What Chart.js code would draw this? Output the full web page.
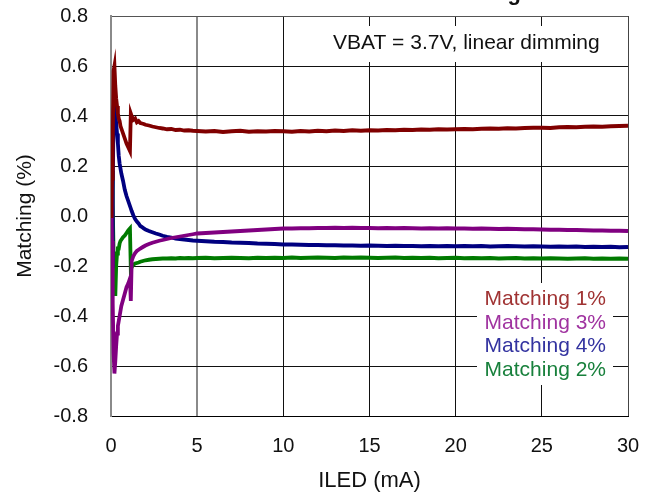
<!DOCTYPE html>
<html>
<head>
<meta charset="utf-8">
<script src="https://cdn.jsdelivr.net/npm/chart.js@4.4.1/dist/chart.umd.min.js"></script>
<style>
html,body{margin:0;padding:0;background:#fff;}
#wrap{width:659px;height:497px;position:relative;}
</style>
</head>
<body>
<div id="wrap"><canvas id="c" width="659" height="497"></canvas></div>
<script>
// ---- data ----
const currentMA = [0,0.03,0.06,0.1,0.15,0.2,0.25,0.3,0.35,0.4,
  0.45,0.5,0.55,0.6,0.7,0.8,0.9,1.0,1.1,1.15,
  1.2,1.3,1.4,1.5,1.6,1.7,1.8,1.9,2.0,2.2,
  2.4,2.6,2.8,3.0,3.25,3.5,3.75,4.0,4.25,4.5,
  4.75,5.0,5.5,6,6.5,7,7.5,8,8.5,9,
  9.5,10,10.5,11,11.5,12,12.5,13,13.5,14,
  14.5,15,15.5,16,16.5,17,17.5,18,18.5,19,
  19.5,20,20.5,21,21.5,22,22.5,23,23.5,24,
  24.5,25,25.5,26,26.5,27,27.5,28,28.5,29,
  29.5,30];

const matching1 = [0.0,0.05,0.15,0.3,0.58,0.6,0.52,0.47,0.44,0.41,
  0.39,0.38,0.36,0.35,0.33,0.31,0.29,0.275,0.26,0.41,
  0.40,0.385,0.39,0.375,0.38,0.372,0.37,0.368,0.365,0.362,
  0.358,0.355,0.352,0.35,0.347,0.348,0.344,0.345,0.342,0.343,
  0.341,0.34,0.338,0.34,0.336,0.339,0.341,0.337,0.339,0.338,
  0.34,0.339,0.337,0.34,0.338,0.341,0.339,0.342,0.34,0.343,
  0.341,0.343,0.342,0.344,0.343,0.345,0.344,0.346,0.345,0.347,
  0.346,0.347,0.348,0.347,0.349,0.35,0.349,0.351,0.35,0.352,
  0.353,0.353,0.352,0.355,0.356,0.355,0.357,0.358,0.357,0.359,
  0.36,0.361];

const matching3 = [0.22,0.0,-0.1,-0.35,-0.55,-0.63,-0.58,-0.52,-0.47,-0.44,
  -0.42,-0.4,-0.38,-0.36,-0.335,-0.31,-0.285,-0.27,-0.25,-0.34,
  -0.18,-0.16,-0.148,-0.14,-0.135,-0.13,-0.126,-0.122,-0.118,-0.112,
  -0.107,-0.103,-0.099,-0.096,-0.092,-0.088,-0.085,-0.082,-0.079,-0.076,
  -0.073,-0.07,-0.068,-0.066,-0.064,-0.062,-0.06,-0.058,-0.056,-0.054,
  -0.052,-0.05,-0.05,-0.049,-0.049,-0.048,-0.048,-0.047,-0.048,-0.047,
  -0.048,-0.048,-0.049,-0.048,-0.049,-0.048,-0.049,-0.05,-0.049,-0.05,
  -0.049,-0.05,-0.05,-0.051,-0.05,-0.051,-0.052,-0.051,-0.052,-0.053,
  -0.053,-0.054,-0.055,-0.055,-0.056,-0.056,-0.057,-0.058,-0.058,-0.059,
  -0.059,-0.06];

const matching4 = [-0.25,-0.24,-0.2,0.1,0.42,0.49,0.42,0.37,0.33,0.29,
  0.24,0.21,0.19,0.17,0.14,0.105,0.08,0.06,0.04,0.03,
  0.02,0.002,-0.012,-0.022,-0.03,-0.04,-0.044,-0.05,-0.054,-0.06,
  -0.065,-0.07,-0.074,-0.079,-0.083,-0.086,-0.09,-0.092,-0.094,-0.096,
  -0.098,-0.099,-0.101,-0.103,-0.104,-0.106,-0.107,-0.108,-0.11,-0.111,
  -0.112,-0.114,-0.114,-0.115,-0.116,-0.116,-0.117,-0.117,-0.118,-0.118,
  -0.119,-0.118,-0.119,-0.12,-0.119,-0.12,-0.12,-0.121,-0.12,-0.121,
  -0.12,-0.121,-0.12,-0.121,-0.12,-0.122,-0.121,-0.12,-0.121,-0.122,
  -0.121,-0.122,-0.123,-0.122,-0.123,-0.122,-0.124,-0.123,-0.124,-0.123,
  -0.125,-0.124];

const matching2 = [0.05,0.2,0.18,0.05,-0.15,-0.25,-0.32,-0.2,-0.15,-0.13,
  -0.13,-0.11,-0.1,-0.095,-0.085,-0.078,-0.068,-0.058,-0.05,-0.215,
  -0.205,-0.195,-0.19,-0.188,-0.186,-0.183,-0.181,-0.179,-0.177,-0.175,
  -0.173,-0.172,-0.171,-0.17,-0.17,-0.169,-0.17,-0.168,-0.169,-0.168,
  -0.169,-0.168,-0.167,-0.169,-0.168,-0.167,-0.168,-0.169,-0.167,-0.168,
  -0.167,-0.168,-0.166,-0.168,-0.167,-0.166,-0.167,-0.168,-0.166,-0.167,
  -0.166,-0.167,-0.168,-0.167,-0.166,-0.168,-0.167,-0.168,-0.167,-0.169,
  -0.168,-0.167,-0.169,-0.168,-0.169,-0.168,-0.17,-0.169,-0.168,-0.17,
  -0.169,-0.17,-0.169,-0.17,-0.171,-0.17,-0.169,-0.171,-0.17,-0.171,
  -0.17,-0.171];

const seriesLabels = ['Matching 1%','Matching 3%','Matching 4%','Matching 2%'];
const seriesValues = [matching1, matching3, matching4, matching2];
const lineColors = ['#800000','#800080','#000080','#007a00'];
const textColors = ['#a03333','#a033a0','#3333a0','#18803c'];
const xTicks = [0,5,10,15,20,25,30];
const yTicks = [-0.8,-0.6,-0.4,-0.2,0.0,0.2,0.4,0.6,0.8];
const annotationText = 'VBAT = 3.7V, linear dimming';
const titleText = 'LED Current Matching';

const FONT = "'Liberation Sans', Arial, sans-serif";

const datasets = seriesValues.map((vals, i) => ({
  label: seriesLabels[i],
  data: currentMA.map((x, k) => ({x: x, y: vals[k]})),
  borderColor: lineColors[i],
  backgroundColor: lineColors[i],
  borderWidth: 3.8,
  pointRadius: 0,
  tension: 0,
  fill: false
}));

const boxesPlugin = {
  id: 'boxes',
  beforeDatasetsDraw(chart) {
    const c = chart.ctx;
    c.save();
    // annotation box
    c.fillStyle = '#fff';
    c.fillRect(325, 26, 289, 36);
    c.fillStyle = '#111';
    c.font = '21px ' + FONT;
    c.textAlign = 'left';
    c.textBaseline = 'middle';
    c.fillText(annotationText, 333, 43);
    // legend box
    c.fillStyle = '#fff';
    c.fillRect(477, 283, 136, 102);
    c.font = '21px ' + FONT;
    c.textAlign = 'right';
    c.textBaseline = 'alphabetic';
    seriesLabels.forEach((lab, i) => {
      c.fillStyle = textColors[i];
      c.fillText(lab, 606, 305 + i * 23.5);
    });
    c.restore();
  },
  afterDraw(chart) {
    const c = chart.ctx;
    c.save();
    c.fillStyle = '#111';
    c.font = 'bold 22px ' + FONT;
    c.textAlign = 'right';
    c.textBaseline = 'alphabetic';
    c.fillText(titleText, 521, 0);
    c.restore();
  }
};

new Chart(document.getElementById('c'), {
  type: 'line',
  data: { datasets },
  options: {
    responsive: false,
    animation: false,
    layout: { padding: { left: 0, right: 31, top: 16, bottom: 0 } },
    plugins: { legend: { display: false }, tooltip: { enabled: false } },
    scales: {
      x: {
        type: 'linear',
        min: 0, max: 30,
        afterBuildTicks: (s) => { s.ticks = xTicks.map(v => ({value: v})); },
        afterFit: (s) => { s.height = 81; },
        ticks: { color: '#111', font: { family: FONT, size: 20 }, padding: 3, maxRotation: 0 },
        grid: {
          drawTicks: true,
          tickLength: 15,
          tickColor: 'rgba(0,0,0,0)',
          color: (ctx) => (ctx.tick && (ctx.tick.value === 0 || ctx.tick.value === 5)) ? '#8a8a8a' : (ctx.tick && ctx.tick.value === 30 ? '#444' : '#111'),
          lineWidth: (ctx) => (ctx.tick && (ctx.tick.value === 0 || ctx.tick.value === 5)) ? 2 : 1
        },
        border: { display: true, color: '#000', width: 1 },
        title: { display: true, text: 'ILED (mA)', color: '#111', font: { family: FONT, size: 22 }, padding: { top: 0, bottom: 3 } }
      },
      y: {
        type: 'linear',
        min: -0.8, max: 0.8,
        afterBuildTicks: (s) => { s.ticks = yTicks.map(v => ({value: v})); },
        afterFit: (s) => { s.width = 111; },
        ticks: {
          color: '#111', font: { family: FONT, size: 20 }, padding: 3,
          callback: (v) => (Math.abs(v) < 1e-9 ? 0 : v).toFixed(1)
        },
        grid: {
          drawTicks: true,
          tickLength: 20,
          tickColor: 'rgba(0,0,0,0)',
          color: (ctx) => (ctx.tick && ctx.tick.value === 0.8) ? '#555' : '#111',
          lineWidth: 1
        },
        border: { display: true, color: '#8a8a8a', width: 2 },
        title: { display: true, text: 'Matching (%)', color: '#111', font: { family: FONT, size: 21 }, padding: { top: 13, bottom: 0 } }
      }
    }
  },
  plugins: [boxesPlugin]
});
</script>
</body>
</html>
